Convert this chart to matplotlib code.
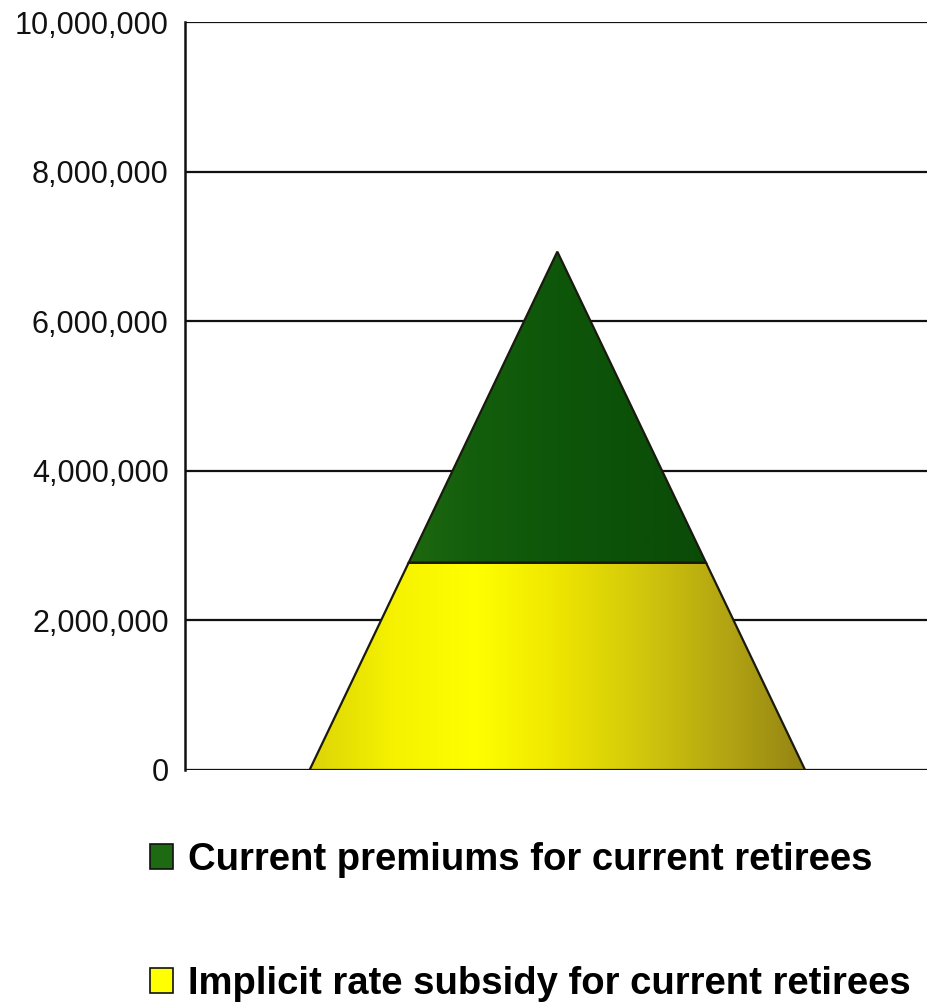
import numpy as np
import matplotlib.pyplot as plt
from matplotlib.patches import Polygon, Patch
from matplotlib.colors import LinearSegmentedColormap
from matplotlib.ticker import FuncFormatter

# stacked pyramid, bottom to top
series = ['Implicit rate subsidy for current retirees',
          'Current premiums for current retirees']
values = [2770000, 4160000]
colors = ['#ffff00', '#0f5c0c']
yticks = [0, 2000000, 4000000, 6000000, 8000000, 10000000]

# horizontal shading for each layer (left -> right)
shades = [
    ['#dcd408', '#f6f200', '#ffff00', '#eee600', '#d2c80c', '#b4a612', '#948414'],
    ['#2a7214', '#206a10', '#135e0c', '#0e560a', '#0c5008', '#0a4a08', '#0a4606'],
]

plt.rcParams['font.family'] = ['Liberation Sans', 'DejaVu Sans']

fig = plt.figure(figsize=(9.27, 10.06), dpi=100)
ax = fig.add_axes([0.2, 0.2346, 0.81, 0.7435])

half = 0.495
total = sum(values)
ax.set_xlim(-0.743, 0.757)
ax.set_ylim(0, 10000000)

bottom = 0
for val, shade in zip(values, shades):
    top = bottom + val
    wb = half * (1 - bottom / total)
    wt = half * (1 - top / total)
    if top >= total:
        pts = [(-wb, bottom), (wb, bottom), (0, top)]
    else:
        pts = [(-wb, bottom), (wb, bottom), (wt, top), (-wt, top)]
    poly = Polygon(pts, closed=True, facecolor='none', edgecolor='#1a1a10',
                   linewidth=1.6, zorder=4)
    ax.add_patch(poly)
    cmap = LinearSegmentedColormap.from_list('shade', shade)
    grad = np.linspace(0, 1, 256).reshape(1, -1)
    im = ax.imshow(grad, cmap=cmap, aspect='auto', extent=(-half, half, bottom, top),
                   zorder=3, interpolation='bilinear')
    im.set_clip_path(poly)
    bottom = top

ax.set_yticks(yticks)
ax.yaxis.set_major_formatter(FuncFormatter(lambda v, p: f'{int(v):,}'))
ax.tick_params(axis='y', length=0, pad=12, labelsize=22, colors='#111111')
ax.set_xticks([])
ax.grid(axis='y', color='#111111', linewidth=1.6, zorder=1)
for s in ['top', 'right', 'bottom']:
    ax.spines[s].set_visible(False)
ax.spines['left'].set_linewidth(1.8)
ax.spines['left'].set_color('#111111')
ax.axhline(0, color='#111111', linewidth=2.2, zorder=2)
ax.set_axisbelow(True)

handles = [Patch(facecolor='#1e6a12', edgecolor='#111111', linewidth=1.2),
           Patch(facecolor='#ffff00', edgecolor='#111111', linewidth=1.2)]
fig.legend(handles, [series[1], series[0]], loc='upper left',
           bbox_to_anchor=(0.162, 0.163), frameon=False,
           prop={'family': ['Liberation Sans', 'DejaVu Sans'],
                 'weight': 'bold', 'size': 27.5},
           handlelength=0.6, handleheight=0.6, handletextpad=0.4,
           labelspacing=2.3, borderpad=0, borderaxespad=0)

fig.savefig('out.png', dpi=100)
